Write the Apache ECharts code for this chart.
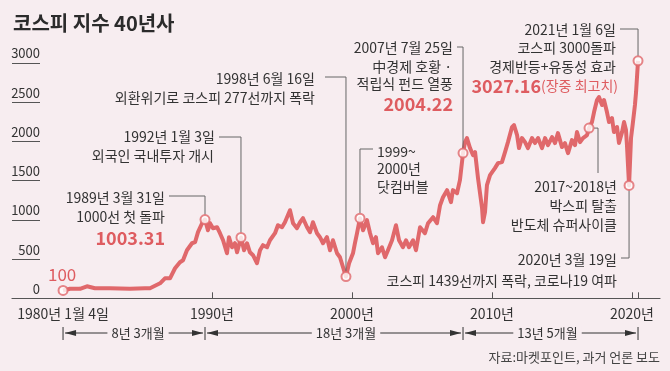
<!DOCTYPE html>
<html><head><meta charset="utf-8">
<script src="https://cdn.jsdelivr.net/npm/echarts@6/dist/echarts.min.js"></script>
<style>html,body{margin:0;padding:0;background:#f7edf0}#c{width:670px;height:371px}</style>
</head><body><div id="c"></div>
<script>
// ---- data (decimal year positions as drawn, KOSPI values) ----
const lineYears = [1979.36,1979.86,1980.57,1981.07,1981.64,1982.71,1984.14,1985.21,1985.57,1986.29,1986.64,1987.0,1987.36,1987.71,1987.93,1988.21,1988.57,1988.79,1989.0,1989.29,1989.5,1989.71,1989.86,1990.07,1990.36,1990.57,1990.79,1991.07,1991.21,1991.43,1991.64,1991.79,1992.07,1992.29,1992.5,1992.71,1992.93,1993.21,1993.43,1993.64,1993.93,1994.14,1994.5,1994.71,1995.0,1995.21,1995.57,1995.79,1996.07,1996.29,1996.5,1996.79,1997.0,1997.21,1997.5,1997.71,1997.93,1998.21,1998.43,1998.64,1998.93,1999.14,1999.36,1999.57,1999.79,2000.07,2000.21,2000.36,2000.57,2000.79,2001.07,2001.29,2001.5,2001.71,2001.86,2002.14,2002.36,2002.57,2002.86,2003.14,2003.36,2003.64,2003.86,2004.07,2004.36,2004.57,2004.86,2005.21,2005.43,2005.79,2006.07,2006.29,2006.5,2006.79,2007.07,2007.21,2007.5,2007.71,2007.93,2008.07,2008.21,2008.43,2008.64,2008.79,2009.0,2009.29,2009.36,2009.5,2009.64,2009.86,2010.21,2010.43,2010.71,2010.93,2011.14,2011.43,2011.57,2011.79,2011.93,2012.14,2012.36,2012.57,2012.86,2013.07,2013.29,2013.57,2013.79,2014.0,2014.29,2014.5,2014.71,2015.0,2015.21,2015.43,2015.71,2015.93,2016.07,2016.29,2016.5,2016.79,2016.93,2017.14,2017.29,2017.5,2017.64,2017.86,2018.0,2018.21,2018.36,2018.57,2018.71,2018.93,2019.07,2019.29,2019.43,2019.57,2019.64,2019.79,2019.93,2020.07,2020.21,2020.29,2020.43];
const lineValues = [100,121,121,153,128,128,121,128,128,191,255,255,383,460,485,613,702,715,843,957,1003.31,868,957,894,906,830,740,574,779,651,702,587,775,613,702,587,549,447,613,677,651,740,830,932,906,970,1123,957,894,970,1021,906,843,970,830,779,702,779,613,740,574,523,396,277,447,574,702,830,1021,868,996,830,702,779,574,651,523,613,740,932,740,651,740,651,740,613,906,830,957,1034,957,1187,1289,1379,1226,1379,1340,1506,1851,1991,2043,1915,1826,1864,1532,1149,970,1098,1443,1570,1660,1723,1736,1864,1991,2183,2209,2081,1915,2043,1991,1915,2043,1979,2043,1915,2043,1953,2055,1979,2106,1928,1979,1851,2017,1953,2119,1991,2043,2081,2170,2247,2374,2528,2566,2464,2528,2374,2247,2298,2119,2183,1979,2119,2247,2145,1953,1439,2043,2247,2464,2630,3027.16];
const eventYears  = [1979.36,1989.5,1992.07,1999.57,2000.57,2007.93,2016.93,2019.79,2020.43];
const eventValues = [100,1003.31,775,277,1021,1851,2170,1439,3027.16];
const yTicks = [0,500,1000,1500,2000,2500,3000];
const xTickYears = [1990,2000,2010,2020,2020.43];
const xLabelYears = [1979.36,1990,2000,2010,2020];
const xLabelTexts = ['1980년 1월 4일','1990년','2000년','2010년','2020년'];
const periodYears = [1979.36,1989.5,2007.93,2020.43];
const periodTexts = ['8년 3개월','18년 3개월','13년 5개월'];

const RED = '#e0686b', TXT = '#333333', BG = '#f7edf0', TEXTRED = '#de5c60';
const FONT = '"Liberation Sans Narrow","Noto Sans CJK KR",sans-serif';
const chart = echarts.init(document.getElementById('c'));
chart.setOption({
  backgroundColor: BG,
  animation: false,
  grid: {left: 12, right: 10, top: 47.3, bottom: 72.7},
  xAxis: {
    type: 'value', min: 1975.714, max: 2022,
    axisLine: {lineStyle: {color: '#555', width: 1.2}},
    axisTick: {inside: true, length: 6, customValues: xTickYears, lineStyle: {color: '#555'}},
    axisLabel: {customValues: xLabelYears, color: TXT, fontSize: 14, fontFamily: FONT, margin: 8,
      formatter: v => { const i = xLabelYears.findIndex(y => Math.abs(y - v) < 1e-6); return i >= 0 ? xLabelTexts[i] : ''; }},
    splitLine: {show: false}
  },
  yAxis: {
    type: 'value', min: 0, max: 3200,
    axisLine: {show: false},
    axisTick: {show: true, inside: true, length: 28, customValues: yTicks, lineStyle: {color: '#555'}},
    axisLabel: {customValues: yTicks, color: TXT, fontSize: 13, fontFamily: FONT, margin: -28,
      align: 'right', verticalAlign: 'bottom', padding: [0,0,3,0], formatter: v => String(v)},
    splitLine: {show: false}
  },
  series: [
    {type: 'line', data: lineYears.map((y, i) => [y, lineValues[i]]), showSymbol: false, z: 2,
     lineStyle: {color: RED, width: 4, join: 'round'}, silent: true},
    {type: 'scatter', data: eventYears.map((y, i) => [y, eventValues[i]]), symbol: 'circle', symbolSize: 9, z: 5,
     itemStyle: {color: '#fff', borderColor: RED, borderWidth: 2}}
  ]
});

const P = eventYears.map((y, i) => chart.convertToPixel({gridIndex: 0}, [y, eventValues[i]]));
const els = [];
function txt(s, x, y, o) {
  o = o || {};
  els.push({type: 'text', z: 10, style: Object.assign({text: s, x: x, y: y, fill: o.fill || TXT,
    fontSize: o.size || 14, fontFamily: o.family || FONT, fontWeight: o.weight || 'normal',
    align: o.align || 'right', verticalAlign: 'middle', textAlign: o.align || 'right', textVerticalAlign: 'middle'}, o.extra || {})});
}
function pl(pts, color, w) {
  els.push({type: 'polyline', z: 3, shape: {points: pts}, style: {stroke: color || '#666', lineWidth: w || 1, fill: null}});
}
// title
txt('코스피 지수 40년사', 13, 23, {align: 'left', size: 20, weight: 'bold', family: '"Noto Sans CJK KR",sans-serif', fill: '#2b2b2b'});
// 100
txt('100', 48, 275, {align: 'left', size: 17, fill: TEXTRED});
// 1989
txt('1989년 3월 31일', 165, 198); txt('1000선 첫 돌파', 165, 217);
txt('1003.31', 165, 238, {size: 18, weight: 'bold', fill: TEXTRED});
pl([[169,196],[P[1][0],196],[P[1][0],P[1][1]-5]]);
// 1992
txt('1992년 1월 3일', 215, 137); txt('외국인 국내투자 개시', 214, 156);
pl([[219,137],[P[2][0],137],[P[2][0],P[2][1]-5]]);
// 1998
txt('1998년 6월 16일', 315, 79); txt('외환위기로 코스피 277선까지 폭락', 315, 98);
pl([[325,77],[P[3][0],77],[P[3][0],P[3][1]-5]]);
// dotcom
txt('1999~', 377, 152, {align: 'left'}); txt('2000년', 377, 169, {align: 'left'}); txt('닷컴버블', 377, 187, {align: 'left'});
pl([[373,149],[P[4][0],149],[P[4][0],P[4][1]-5]]);
// 2007
txt('2007년 7월 25일', 453, 48); txt('中경제 호황 ·', 452, 67); txt('적립식 펀드 열풍', 453, 84);
txt('2004.22', 453, 104, {size: 18, weight: 'bold', fill: TEXTRED});
pl([[457,47],[P[5][0],47],[P[5][0],P[5][1]-5]]);
// 2021
txt('2021년 1월 6일', 616, 30); txt('코스피 3000돌파', 616, 48); txt('경제반등+유동성 효과', 616, 67);
els.push({type: 'text', z: 10, style: {text: '{a|3027.16}{b|(장중 최고치)}', x: 618, y: 86, align: 'right', verticalAlign: 'middle',
  textAlign: 'right', textVerticalAlign: 'middle',
  rich: {a: {fontSize: 18, fontWeight: 'bold', fill: TEXTRED, color: TEXTRED, fontFamily: FONT},
         b: {fontSize: 14, fill: TEXTRED, color: TEXTRED, fontFamily: FONT}}}});
pl([[620,29],[P[8][0],29],[P[8][0],P[8][1]-5]]);
// 2017
txt('2017~2018년', 617, 187); txt('박스피 탈출', 617, 206); txt('반도체 슈퍼사이클', 617, 225);
pl([[P[6][0]+5,P[6][1]],[598,P[6][1]],[598,173]]);
// 2020 Mar
txt('2020년 3월 19일', 617, 260); txt('코스피 1439선까지 폭락, 코로나19 여파', 617, 281);
pl([[621,258],[P[7][0],258],[P[7][0],P[7][1]+5]]);
// period brackets
const BY = 333;
const px = periodYears.map(y => chart.convertToPixel({xAxisIndex: 0}, y));
px.forEach(x => pl([[x,327],[x,340]], '#333', 1));
const offs = [4, 12, -3];
for (let i = 0; i < periodTexts.length; i++) {
  const a = px[i] + 2, b = px[i+1] - 2;
  pl([[a,BY],[b,BY]], '#333', 1);
  els.push({type: 'polygon', z: 4, shape: {points: [[a,BY],[a+11,BY-3],[a+11,BY+3]]}, style: {fill: '#333'}});
  els.push({type: 'polygon', z: 4, shape: {points: [[b,BY],[b-11,BY-3],[b-11,BY+3]]}, style: {fill: '#333'}});
  txt(periodTexts[i], (a+b)/2 + offs[i], BY, {align: 'center', size: 13, extra: {backgroundColor: BG, padding: [0,4]}});
}
// source
txt('자료:마켓포인트, 과거 언론 보도', 660, 357, {size: 13, fill: '#444'});
chart.setOption({graphic: {elements: els}});
</script></body></html>
